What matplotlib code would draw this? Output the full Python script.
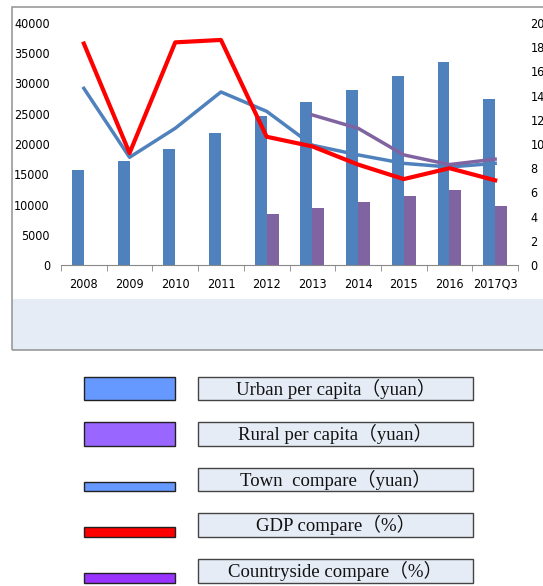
import numpy as np
import matplotlib
matplotlib.use("Agg")
import matplotlib.pyplot as plt
from matplotlib.patches import Rectangle

years = ["2008", "2009", "2010", "2011", "2012", "2013", "2014", "2015", "2016", "2017Q3"]
urban = [15781, 17175, 19109, 21810, 24565, 26955, 28844, 31195, 33616, 27430]
rural = [np.nan, np.nan, np.nan, np.nan, 8389, 9430, 10489, 11422, 12363, 9778]
town_cmp = [14.6, 8.9, 11.3, 14.3, 12.7, 9.9, 9.1, 8.4, 8.1, 8.4]
gdp_cmp = [18.3, 9.25, 18.4, 18.6, 10.6, 9.8, 8.3, 7.1, 8.0, 7.0]
country_cmp = [np.nan, np.nan, np.nan, np.nan, np.nan, 12.4, 11.3, 9.1, 8.3, 8.75]

legend_labels = ["Urban per capita（yuan）", "Rural per capita（yuan）",
                 "Town  compare（yuan）", "GDP compare（%）", "Countryside compare（%）"]

W, H = 543, 586
fig = plt.figure(figsize=(W / 100, H / 100), dpi=100)

def fx(px):
    return px / W

def fy(py):
    return 1 - py / H

def box(x0, y0, x1, y1, **kw):
    fig.add_artist(Rectangle((fx(x0), fy(y1)), fx(x1) - fx(x0), (y1 - y0) / H,
                             transform=fig.transFigure, **kw))

# outer frame and light band under the chart
box(12, 299, 560, 350, facecolor="#e6ecf6", edgecolor="none", zorder=0)
box(12, 7, 560, 350, facecolor="none", edgecolor="#9a9a9a", linewidth=1.2, zorder=1)

tick_font = dict(family="DejaVu Sans", stretch="condensed", size=9)

ax = fig.add_axes([fx(61), fy(265), fx(518) - fx(61), 242 / H])
ax.patch.set_alpha(0)
x = np.arange(len(years))
bw = 0.26
ax.bar(x - bw / 2, urban, width=bw, color="#4f81bd", zorder=2)
ax.bar(x + bw / 2, rural, width=bw, color="#8064a2", zorder=2)
ax.set_ylim(0, 40000)
ax.set_xlim(-0.5, len(years) - 0.5)
ax.set_yticks(range(0, 40001, 5000))
ax.set_yticklabels([str(v) for v in range(0, 40001, 5000)], fontdict=tick_font)
ax.set_xticks(x)
ax.set_xticklabels(years, fontdict=tick_font)
ax.set_xticks(np.arange(-0.5, len(years)), minor=True)
ax.tick_params(axis="x", which="major", length=0, pad=9)
ax.tick_params(axis="x", which="minor", length=4, color="#888888")
ax.tick_params(axis="y", length=0, pad=8)
for s in ["top", "right", "left"]:
    ax.spines[s].set_visible(False)
ax.spines["bottom"].set_color("#888888")

ax2 = ax.twinx()
ax2.plot(x, town_cmp, color="#4f81bd", linewidth=2.5, zorder=3)
ax2.plot(x, country_cmp, color="#8064a2", linewidth=2.5, zorder=3)
ax2.plot(x, gdp_cmp, color="#ff0000", linewidth=3, zorder=4)
ax2.set_ylim(0, 20)
ax2.set_yticks(range(0, 21, 2))
ax2.set_yticklabels([str(v) for v in range(0, 21, 2)], fontdict=tick_font)
ax2.tick_params(axis="y", length=0, pad=9)
for s in ["top", "right", "left", "bottom"]:
    ax2.spines[s].set_visible(False)

# custom legend below the chart
swatch_colors = ["#6699ff", "#9966ff", "#6699ff", "#ff0000", "#9933ff"]
swatches = [(377, 400), (422, 446), (482, 491), (527, 537), (573, 583)]
text_boxes = [(377, 400), (422, 446), (468, 491), (513, 537), (559, 583)]
serif = ["Liberation Serif", "Noto Sans CJK SC"]
for col, (s0, s1), (t0, t1), lab in zip(swatch_colors, swatches, text_boxes, legend_labels):
    box(84, s0, 175, s1, facecolor=col, edgecolor="#222222", linewidth=1)
    box(198, t0, 473, t1, facecolor="#e6ecf6", edgecolor="#444444", linewidth=1)
    fig.text(fx(335.5), fy((t0 + t1) / 2), lab, ha="center", va="center",
             fontsize=13.5, family=serif, color="#111111")

fig.savefig("out.png", dpi=100)
